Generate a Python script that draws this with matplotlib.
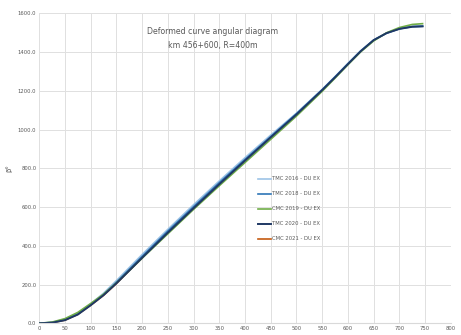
import numpy as np
import matplotlib.pyplot as plt

# chainage (m) and angle values
x_16 = [0, 25, 50, 75, 100, 125, 150, 200, 250, 300, 350, 400, 450, 500, 550, 575, 600, 625, 650, 675, 700, 725, 745]
y_16 = [0, 5, 20, 52, 100, 155, 220, 355, 485, 612, 735, 855, 972, 1085, 1208, 1274, 1342, 1408, 1463, 1498, 1520, 1532, 1534]

x_18 = [0, 25, 50, 75, 100, 125, 150, 200, 250, 300, 350, 400, 450, 500, 550, 575, 600, 625, 650, 675, 700, 725, 745]
y_18 = [0, 4, 18, 48, 96, 148, 212, 345, 476, 602, 726, 846, 964, 1082, 1206, 1272, 1340, 1406, 1462, 1498, 1521, 1532, 1534]

x_19 = [0, 25, 50, 75, 100, 125, 150, 200, 250, 300, 350, 400, 450, 500, 550, 575, 600, 625, 650, 675, 700, 725, 745]
y_19 = [0, 6, 24, 56, 102, 150, 208, 336, 462, 588, 710, 830, 950, 1070, 1198, 1266, 1335, 1402, 1458, 1500, 1527, 1543, 1547]

x_20 = [0, 25, 50, 75, 100, 125, 150, 200, 250, 300, 350, 400, 450, 500, 550, 575, 600, 625, 650, 675, 700, 725, 745]
y_20 = [0, 3, 16, 45, 93, 145, 206, 338, 468, 594, 718, 840, 960, 1078, 1204, 1270, 1338, 1405, 1462, 1498, 1520, 1531, 1533]

x_21 = [0, 25, 50, 75, 100, 125, 150, 175, 200]
y_21 = [0, 3, 16, 46, 93, 144, 205, 272, 337]

series = [
    (x_21, y_21, 'CMC 2021 - DU EX', '#c55a11', 1.2),
    (x_16, y_16, 'TMC 2016 - DU EX', '#9dc3e6', 1.2),
    (x_18, y_18, 'TMC 2018 - DU EX', '#2e75b6', 1.2),
    (x_19, y_19, 'CMC 2019 - DU EX', '#70ad47', 1.2),
    (x_20, y_20, 'TMC 2020 - DU EX', '#1f3864', 1.4),
]

fig, ax = plt.subplots(figsize=(4.61, 3.35), dpi=100)
fig.subplots_adjust(left=0.085, right=0.978, top=0.96, bottom=0.035)

lines = {}
for xs, ys, lab, col, lw in series:
    lines[lab], = ax.plot(xs, ys, color=col, lw=lw, label=lab)

ax.set_xlim(0, 800)
ax.set_ylim(0, 1600)
ax.set_xticks(np.arange(0, 801, 50))
ax.set_yticks(np.arange(0, 1601, 200))
ax.yaxis.set_major_formatter(plt.FuncFormatter(lambda v, p: f'{v:.1f}'))
ax.tick_params(labelsize=3.8, colors='#595959', length=0, pad=2)
ax.grid(True, color='#e0e0e0', lw=0.7)
ax.set_axisbelow(True)
for s in ['top', 'right', 'left']:
    ax.spines[s].set_visible(False)
ax.spines['bottom'].set_color('#d9d9d9')

ax.set_ylabel('β°', fontsize=5, color='#595959', labelpad=4)

ax.text(0.422, 0.955, 'Deformed curve angular diagram\nkm 456+600, R=400m',
        transform=ax.transAxes, ha='center', va='top', fontsize=5.6,
        color='#595959', linespacing=1.7)

order = ['TMC 2016 - DU EX', 'TMC 2018 - DU EX', 'CMC 2019 - DU EX',
         'TMC 2020 - DU EX', 'CMC 2021 - DU EX']
ax.legend([lines[k] for k in order], order, loc='center left',
          bbox_to_anchor=(0.532, 0.369), frameon=False, borderpad=0,
          borderaxespad=0, fontsize=3.8, labelcolor='#595959',
          handlelength=2.5, labelspacing=1.9, handletextpad=0.2)

fig.savefig('out.png', dpi=100)
